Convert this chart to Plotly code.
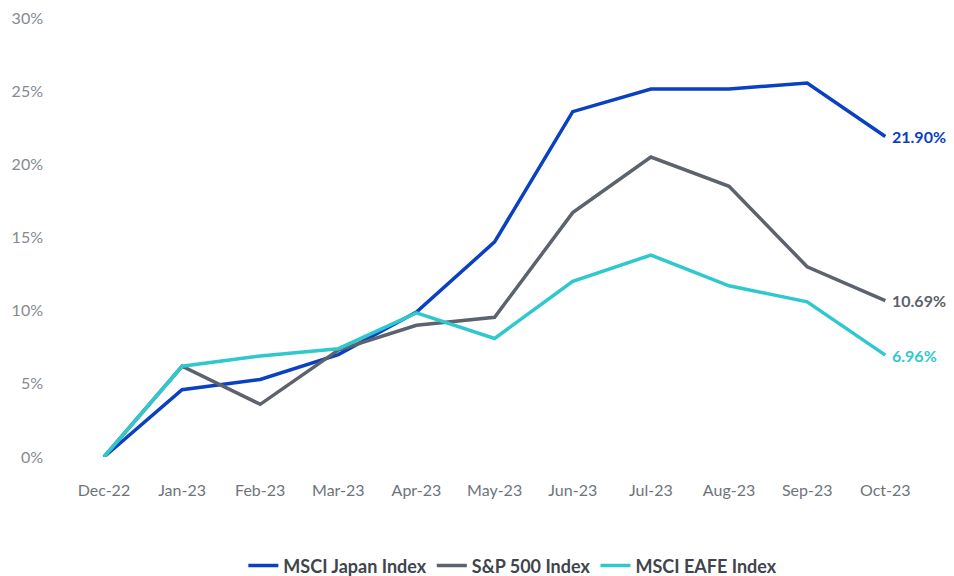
import plotly.graph_objects as go

months = ["Dec-22", "Jan-23", "Feb-23", "Mar-23", "Apr-23", "May-23",
          "Jun-23", "Jul-23", "Aug-23", "Sep-23", "Oct-23"]
japan = [0.0, 4.6, 5.3, 7.0, 9.9, 14.7, 23.6, 25.15, 25.15, 25.55, 21.90]
sp500 = [0.0, 6.2, 3.6, 7.3, 9.0, 9.55, 16.7, 20.5, 18.5, 13.0, 10.69]
eafe = [0.0, 6.2, 6.9, 7.4, 9.85, 8.1, 12.0, 13.8, 11.7, 10.6, 6.96]
names = ["MSCI Japan Index", "S&P 500 Index", "MSCI EAFE Index"]
colors = ["#0A40C2", "#5C636C", "#2FC8CF"]
end_labels = ["21.90%", "10.69%", "6.96%"]
y_ticks = [0, 5, 10, 15, 20, 25, 30]

FONT = "Lato"
fig = go.Figure()
series = [japan, sp500, eafe]
for name, vals, col in zip(names, series, colors):
    fig.add_trace(go.Scatter(x=months, y=vals, name=name, mode="lines",
                             line=dict(color=col, width=3.5),
                             cliponaxis=False))

for vals, col, lab in zip(series, colors, end_labels):
    fig.add_annotation(x=months[-1], y=vals[-1], text="<b>" + lab + "</b>",
                       showarrow=False, xanchor="left", xshift=5,
                       font=dict(family=FONT, size=16, color=col))

fig.update_layout(
    width=946, height=568,
    paper_bgcolor="white", plot_bgcolor="white",
    margin=dict(l=42, r=64, t=10, b=119, autoexpand=False),
    font=dict(family=FONT, color="#6E747B", size=16),
    xaxis=dict(type="category", range=[-0.69, 10.06], showgrid=False,
               showline=False, zeroline=False, ticks="", automargin=False,
               ticklabelstandoff=22, tickfont=dict(size=16, color="#6E747B")),
    yaxis=dict(range=[0, 30], tickvals=y_ticks, automargin=False,
               ticktext=[f"{v}%" for v in y_ticks], showgrid=False,
               showline=False, zeroline=False, ticks="",
               ticklabeloverflow="allow",
               ticklabelstandoff=6, tickfont=dict(size=16, color="#858A90")),
    legend=dict(orientation="h", xref="paper", yref="paper",
                x=0.551, y=-0.248, xanchor="center", yanchor="middle",
                font=dict(family=FONT, size=18, color="#3F454C", weight="bold"),
                itemwidth=30, tracegroupgap=0),
    showlegend=True,
)

fig.write_html("out.html")
